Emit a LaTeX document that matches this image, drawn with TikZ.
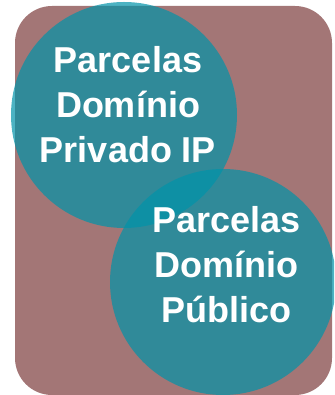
\documentclass[tikz,border=0pt]{standalone}
\usepackage{fontspec}
\setmainfont{Liberation Sans}
\definecolor{bgbrown}{RGB}{163,118,118}
\definecolor{tealc}{RGB}{0,147,169}
\begin{document}
\begin{tikzpicture}[x=1pt,y=1pt,
  setcircle/.style={fill=tealc,fill opacity=0.7,draw=none},
  lbl/.style={text=white,font=\fontsize{36}{45}\selectfont\bfseries,anchor=base,inner sep=0pt}]
\useasboundingbox (0,0) rectangle (334,395);
\begin{scope}
\clip (0,0) rectangle (334,395);
\fill[bgbrown,rounded corners=37pt] (15,0) rectangle (332,389);
\fill[setcircle] (124,280) circle (113);
\fill[setcircle] (223,113) circle (113);
\end{scope}
\node[lbl] (a1) at (128,322) {Parcelas};
\node[lbl] (a2) at (128,277) {Domínio};
\node[lbl] (a3) at (128,232) {Privado IP};
\node[lbl] (b1) at (226.5,162) {Parcelas};
\node[lbl] (b2) at (226.5,117) {Domínio};
\node[lbl] (b3) at (226.5,72) {Público};
\end{tikzpicture}
\end{document}
